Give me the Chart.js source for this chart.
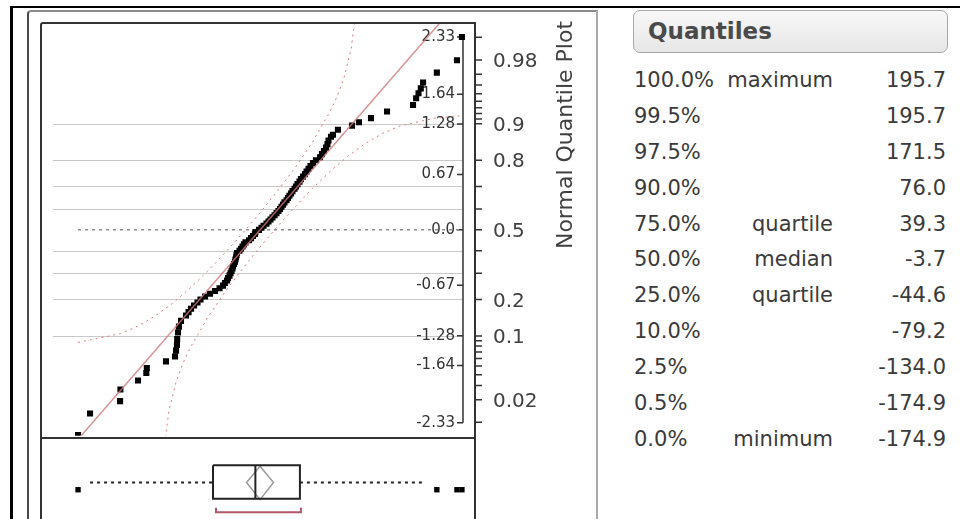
<!DOCTYPE html>
<html>
<head>
<meta charset="utf-8">
<script src="https://cdn.jsdelivr.net/npm/chart.js@4.4.1/dist/chart.umd.min.js"></script>
<style>
  body { margin: 0; background: #fff; width: 960px; height: 519px; overflow: hidden; position: relative; font-family: 'DejaVu Sans', sans-serif; }
  .abs { position: absolute; }
  #outer { left: 10px; top: 6px; width: 960px; height: 600px; border-left: 3px solid #000; border-top: 2px solid #000; }
  #panel { left: 27px; top: 10px; width: 567px; height: 600px; border-left: 2px solid #4a4a4a; border-top: 2px solid #8a8a8a; border-right: 2px solid #aaa; border-top-left-radius: 4px; }
  #plotFrame { left: 40px; top: 22px; width: 432px; height: 413px; border: 2px solid #333; border-top-left-radius: 3px; pointer-events: none; }
  #boxFrame { left: 40px; top: 437px; width: 432px; height: 100px; border-left: 2px solid #333; border-right: 2px solid #333; pointer-events: none; }
  #qq { left: 0; top: 0; }
  #box { left: 0; top: 437px; }
  #head { left: 633px; top: 10px; width: 313px; height: 41px; border: 1px solid #a8a8a8; border-radius: 7px;
          background: linear-gradient(#f8f8f8, #e6e6e6); }
  #head span { position: absolute; left: 14px; top: 7px; font-size: 23px; font-weight: bold; color: #4a4a4a; }
  #table { left: 634px; top: 62px; width: 320px; color: #3a3a3a; font-size: 21px; }
  .row { position: relative; height: 35.9px; line-height: 36px; }
  .row span { position: absolute; top: 0; white-space: nowrap; }
  .c1 { left: 0; }
  .c2 { right: 121px; }
  .c3 { right: 8px; }
</style>
</head>
<body>
<div id="outer" class="abs"></div>
<div id="panel" class="abs"></div>
<canvas id="qq" class="abs" width="600" height="440"></canvas>
<canvas id="box" class="abs" width="600" height="82"></canvas>
<div id="plotFrame" class="abs"></div>
<div id="boxFrame" class="abs"></div>
<div id="head" class="abs"><span>Quantiles</span></div>
<div id="table" class="abs"></div>
<script>
// sorted data values and their normal quantiles
var qqValues = [
  -174.9, -163.3, -134.3, -134.0, -117.0, -109.0, -108.5, -90.0, -81.3, -80.3, -79.4, -79.2, -78.4, -77.5, -75.5,
  -70.7, -68.2, -65.8, -62.9, -59.6, -56.7, -52.3, -47.5, -42.7, -38.3, -34.9, -33.0, -31.1, -30.1, -28.7, -27.7,
  -26.7, -25.8, -25.3, -24.3, -23.4, -22.9, -22.4, -21.9, -21.4, -19.0, -17.6, -16.1, -14.7, -13.2, -9.8, -7.9,
  -6.0, -4.1, -3.7, -0.2,
  2.2, 4.2, 7.0, 9.0, 10.9, 12.8, 14.8, 16.7, 18.6, 20.1, 21.5, 23.0, 24.4, 26.4, 27.8, 29.2, 30.7, 32.1, 34.1,
  35.5, 37.0, 38.9, 40.3, 42.3, 44.2, 45.7, 47.6, 49.5, 51.9, 54.8, 58.7, 60.6, 62.5, 64.5, 65.9, 66.9, 69.3,
  71.2, 76.0, 89.6, 96.3, 107.9, 123.4, 148.5, 151.5, 153.8, 156.0, 158.2, 171.5, 190.9, 195.7
];
var qqNormalQuantiles = [
  -2.48, -2.22, -2.07, -1.93, -1.82, -1.73, -1.67, -1.59, -1.53, -1.46, -1.39, -1.32, -1.24, -1.17, -1.10,
  -1.036, -0.994, -0.954, -0.915, -0.878, -0.842, -0.806, -0.772, -0.739, -0.706, -0.674, -0.643, -0.613, -0.583, -0.553, -0.524,
  -0.496, -0.468, -0.440, -0.412, -0.385, -0.358, -0.332, -0.305, -0.279, -0.253, -0.228, -0.202, -0.176, -0.151, -0.126, -0.100,
  -0.075, -0.050, -0.025, 0,
  0.025, 0.050, 0.075, 0.100, 0.126, 0.151, 0.176, 0.202, 0.228, 0.253, 0.279, 0.305, 0.332, 0.358, 0.385, 0.412, 0.440, 0.468, 0.496,
  0.524, 0.553, 0.583, 0.613, 0.643, 0.674, 0.706, 0.739, 0.772, 0.806, 0.842, 0.878, 0.915, 0.954, 0.994, 1.036, 1.080, 1.126,
  1.15, 1.21, 1.26, 1.30, 1.35, 1.43, 1.51, 1.59, 1.65, 1.71, 1.78, 1.90, 2.05, 2.33
];

// confidence bands (dotted red curves)
var bandUpperX = [-174.9, -134.2, -117.3, -100.5, -83.6, -66.7, -49.8, -33.0, -16.1, 0.8, 17.7, 34.6, 51.4, 68.3, 75.1, 81.8, 88.6, 91.9, 92.6];
var bandUpperZ = [-1.361, -1.255, -1.165, -1.041, -0.887, -0.704, -0.500, -0.278, -0.042, 0.207, 0.470, 0.750, 1.060, 1.428, 1.610, 1.837, 2.176, 2.483, 2.582];
var bandLowerX = [-91.0, -90.3, -87.0, -80.2, -73.5, -66.7, -49.8, -33.0, -16.1, 0.8, 17.7, 34.6, 51.4, 68.3, 85.2, 102.1, 118.9, 135.8, 169.6, 195.7];
var bandLowerZ = [-2.582, -2.483, -2.176, -1.837, -1.610, -1.428, -1.060, -0.750, -0.470, -0.207, 0.042, 0.278, 0.500, 0.704, 0.887, 1.041, 1.165, 1.255, 1.351, 1.379];

// fitted normal line
var fitMean = 0.8;
var fitSd = 69.4;

// axis ticks
var zTicks = [-2.33, -1.64, -1.28, -0.67, 0, 0.67, 1.28, 1.64, 2.33];
var zTickLabels = ['-2.33', '-1.64', '-1.28', '-0.67', '0.0', '0.67', '1.28', '1.64', '2.33'];
var probTicks = [0.01, 0.02, 0.03, 0.04, 0.05, 0.06, 0.07, 0.08, 0.09, 0.1, 0.2, 0.3, 0.4, 0.5, 0.6, 0.7, 0.8, 0.9,
                 0.91, 0.92, 0.93, 0.94, 0.95, 0.96, 0.97, 0.98, 0.99];
var probLabelValues = [0.02, 0.1, 0.2, 0.5, 0.8, 0.9, 0.98];
var probLabelText = ['0.02', '0.1', '0.2', '0.5', '0.8', '0.9', '0.98'];
var gridProbs = [0.1, 0.2, 0.3, 0.4, 0.6, 0.7, 0.8, 0.9];

// box plot
var boxQ1 = -44.6, boxMedian = -3.7, boxQ3 = 39.3;
var whiskerLo = -163.3, whiskerHi = 158.2;
var meanCI = [-12.2, 13.8];
var shortestHalf = [-41.7, 40.3];

// quantiles table
var quantileLevels = ['100.0%', '99.5%', '97.5%', '90.0%', '75.0%', '50.0%', '25.0%', '10.0%', '2.5%', '0.5%', '0.0%'];
var quantileNames = ['maximum', '', '', '', 'quartile', 'median', 'quartile', '', '', '', 'minimum'];
var quantileValues = [195.7, 195.7, 171.5, 76.0, 39.3, -3.7, -44.6, -79.2, -134.0, -174.9, -174.9];

var xMin = -209.7, xMax = 206.4;

// inverse normal cdf, used for the probability axis
function qnorm(p) {
  var a = [-39.69683028665376, 220.9460984245205, -275.9285104469687, 138.3577518672690, -30.66479806614716, 2.506628277459239];
  var b = [-54.47609879822406, 161.5858368580409, -155.6989798598866, 66.80131188771972, -13.28068155288572];
  var c = [-0.007784894002430293, -0.3223964580411365, -2.400758277161838, -2.549732539343734, 4.374664141464968, 2.938163982698783];
  var d = [0.007784695709041462, 0.3224671290700398, 2.445134137142996, 3.754408661907416];
  var q, r;
  if (p < 0.02425) {
    q = Math.sqrt(-2 * Math.log(p));
    return (((((c[0]*q+c[1])*q+c[2])*q+c[3])*q+c[4])*q+c[5]) / ((((d[0]*q+d[1])*q+d[2])*q+d[3])*q+1);
  }
  if (p > 1 - 0.02425) {
    q = Math.sqrt(-2 * Math.log(1 - p));
    return -(((((c[0]*q+c[1])*q+c[2])*q+c[3])*q+c[4])*q+c[5]) / ((((d[0]*q+d[1])*q+d[2])*q+d[3])*q+1);
  }
  q = p - 0.5; r = q * q;
  return (((((a[0]*r+a[1])*r+a[2])*r+a[3])*r+a[4])*r+a[5])*q / (((((b[0]*r+b[1])*r+b[2])*r+b[3])*r+b[4])*r+1);
}

function pairs(xs, ys) {
  return xs.map(function (v, i) { return { x: v, y: ys[i] }; });
}

var qqAxes = {
  id: 'qqAxes',
  beforeDatasetsDraw: function (chart) {
    var ctx = chart.ctx, a = chart.chartArea, y = chart.scales.y;
    var axisX = a.right - 10;
    ctx.save();
    ctx.strokeStyle = '#c9c9c9';
    ctx.lineWidth = 1;
    gridProbs.forEach(function (p) {
      var py = Math.round(y.getPixelForValue(qnorm(p))) + 0.5;
      ctx.beginPath(); ctx.moveTo(a.left + 11, py); ctx.lineTo(axisX, py); ctx.stroke();
    });
    ctx.strokeStyle = '#333';
    ctx.lineWidth = 1.5;
    ctx.beginPath();
    ctx.moveTo(axisX, y.getPixelForValue(zTicks[zTicks.length - 1]));
    ctx.lineTo(axisX, y.getPixelForValue(zTicks[0]));
    zTicks.forEach(function (z) {
      var py = y.getPixelForValue(z);
      ctx.moveTo(axisX - 6, py); ctx.lineTo(axisX, py);
    });
    ctx.stroke();
    ctx.fillStyle = '#333';
    ctx.font = '15px "DejaVu Sans"';
    ctx.textAlign = 'right';
    ctx.textBaseline = 'middle';
    zTicks.forEach(function (z, i) {
      ctx.fillText(zTickLabels[i], axisX - 8, y.getPixelForValue(z));
    });
    ctx.restore();
  },
  afterDraw: function (chart) {
    var ctx = chart.ctx, a = chart.chartArea, y = chart.scales.y;
    ctx.save();
    ctx.strokeStyle = '#333';
    ctx.lineWidth = 1.5;
    ctx.beginPath();
    probTicks.forEach(function (p) {
      var py = y.getPixelForValue(qnorm(p));
      ctx.moveTo(a.right + 2, py); ctx.lineTo(a.right + 9, py);
    });
    ctx.stroke();
    ctx.fillStyle = '#404040';
    ctx.font = '20px "DejaVu Sans"';
    ctx.textAlign = 'left';
    ctx.textBaseline = 'middle';
    probLabelValues.forEach(function (p, i) {
      ctx.fillText(probLabelText[i], a.right + 20, y.getPixelForValue(qnorm(p)) + 2);
    });
    ctx.translate(a.right + 93, 135);
    ctx.rotate(-Math.PI / 2);
    ctx.textAlign = 'center';
    ctx.font = '22px "DejaVu Sans"';
    ctx.fillText('Normal Quantile Plot', 0, 0);
    ctx.restore();
  }
};

var lineStyle = { showLine: true, pointRadius: 0, fill: false, tension: 0, clip: 0 };

new Chart(document.getElementById('qq'), {
  type: 'scatter',
  data: {
    datasets: [
      Object.assign({ data: [{ x: fitMean - fitSd * 2.6, y: -2.6 }, { x: fitMean + fitSd * 2.6, y: 2.6 }],
        borderColor: 'rgba(205,120,120,0.8)', borderWidth: 1.5 }, lineStyle),
      { data: pairs(qqValues, qqNormalQuantiles), pointStyle: 'rect', pointRadius: 4.3,
        backgroundColor: '#000', borderWidth: 0 },
      Object.assign({ data: pairs(bandUpperX, bandUpperZ), borderColor: '#d87878', borderWidth: 1,
        borderDash: [2, 4] }, lineStyle),
      Object.assign({ data: pairs(bandLowerX, bandLowerZ), borderColor: '#d87878', borderWidth: 1,
        borderDash: [2, 4] }, lineStyle),
      Object.assign({ data: [{ x: qqValues[0], y: 0 }, { x: qqValues[qqValues.length - 1], y: 0 }],
        borderColor: '#8c8c8c', borderWidth: 1.5, borderDash: [3, 4] }, lineStyle)
    ]
  },
  options: {
    responsive: false,
    animation: false,
    events: [],
    layout: { padding: { left: 42, right: 127, top: 24, bottom: 4 } },
    scales: {
      x: { type: 'linear', min: xMin, max: xMax, display: false },
      y: { type: 'linear', min: -2.488, max: 2.488, display: false }
    },
    plugins: { legend: { display: false }, tooltip: { enabled: false } }
  },
  plugins: [qqAxes]
});

// box plot below, same x scale; y runs 0..82 down the panel
var whiskerY = 46, boxTop = 27, boxBottom = 64, outlierY = 54, bracketY = 79, bracketTop = 74;
var outliers = qqValues.filter(function (v) { return v < whiskerLo || v > whiskerHi; });
var meanMid = (meanCI[0] + meanCI[1]) / 2;

new Chart(document.getElementById('box'), {
  type: 'scatter',
  data: {
    datasets: [
      { data: outliers.map(function (v) { return { x: v, y: outlierY }; }), pointStyle: 'rect', pointRadius: 3.8,
        backgroundColor: '#000', borderWidth: 0 },
      Object.assign({ data: [{ x: boxQ1, y: boxTop }, { x: boxQ3, y: boxTop }, { x: boxQ3, y: boxBottom },
        { x: boxQ1, y: boxBottom }, { x: boxQ1, y: boxTop }], borderColor: '#222', borderWidth: 2 }, lineStyle),
      Object.assign({ data: [{ x: boxMedian, y: boxTop }, { x: boxMedian, y: boxBottom }],
        borderColor: '#222', borderWidth: 2 }, lineStyle),
      Object.assign({ data: [{ x: meanMid, y: boxTop + 1 }, { x: meanCI[1], y: whiskerY }, { x: meanMid, y: boxBottom + 1 },
        { x: meanCI[0], y: whiskerY }, { x: meanMid, y: boxTop + 1 }], borderColor: '#999', borderWidth: 1.5 }, lineStyle),
      Object.assign({ data: [{ x: whiskerLo, y: whiskerY }, { x: boxQ1, y: whiskerY }],
        borderColor: '#222', borderWidth: 2, borderDash: [3, 4] }, lineStyle),
      Object.assign({ data: [{ x: boxQ3, y: whiskerY }, { x: whiskerHi, y: whiskerY }],
        borderColor: '#222', borderWidth: 2, borderDash: [3, 4] }, lineStyle),
      Object.assign({ data: [{ x: shortestHalf[0], y: bracketTop }, { x: shortestHalf[0], y: bracketY },
        { x: shortestHalf[1], y: bracketY }, { x: shortestHalf[1], y: bracketTop }],
        borderColor: '#b05868', borderWidth: 2 }, lineStyle)
    ]
  },
  options: {
    responsive: false,
    animation: false,
    events: [],
    layout: { padding: { left: 42, right: 127, top: 0, bottom: 0 } },
    scales: {
      x: { type: 'linear', min: xMin, max: xMax, display: false },
      y: { type: 'linear', min: 0, max: 82, reverse: true, display: false }
    },
    plugins: { legend: { display: false }, tooltip: { enabled: false } }
  }
});

// quantiles table
var table = document.getElementById('table');
quantileLevels.forEach(function (lvl, i) {
  var row = document.createElement('div');
  row.className = 'row';
  row.innerHTML = '<span class="c1">' + lvl + '</span><span class="c2">' + quantileNames[i] +
    '</span><span class="c3">' + quantileValues[i].toFixed(1) + '</span>';
  table.appendChild(row);
});
</script>
</body>
</html>
